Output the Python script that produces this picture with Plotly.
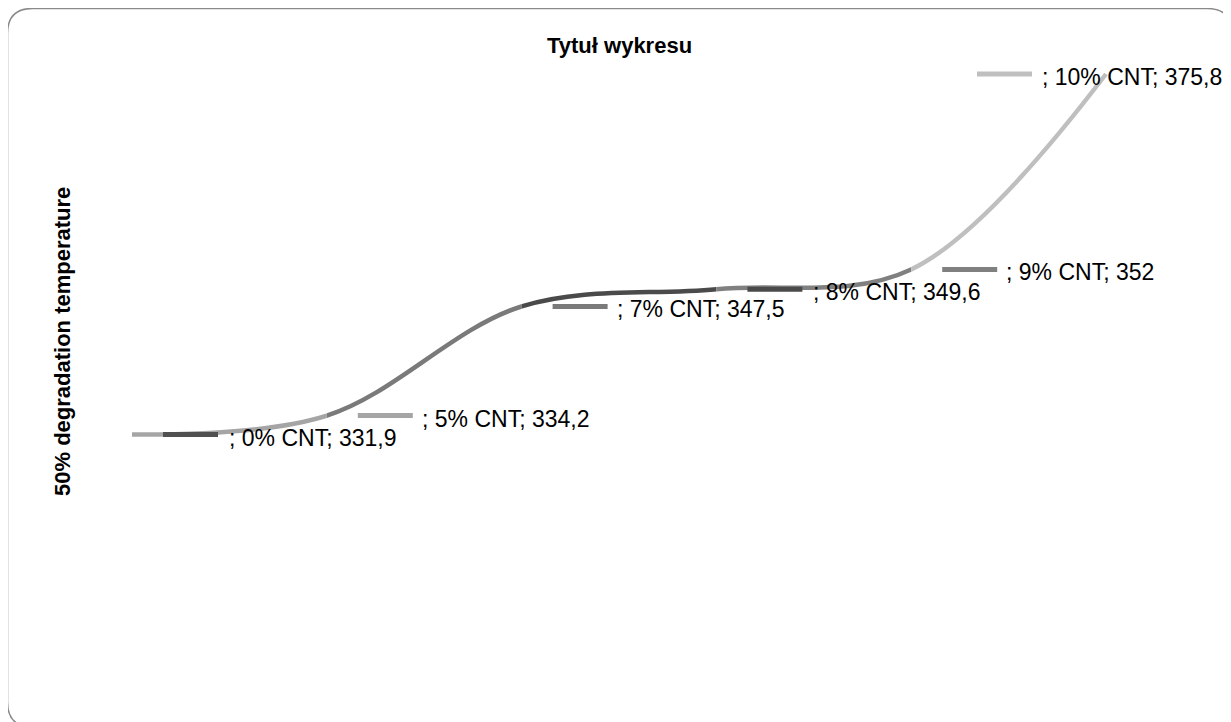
import plotly.graph_objects as go

# ---- data ----
categories = ["0% CNT", "5% CNT", "7% CNT", "8% CNT", "9% CNT", "10% CNT"]
values = [331.9, 334.2, 347.5, 349.6, 352.0, 375.8]
value_labels = ["331,9", "334,2", "347,5", "349,6", "352", "375,8"]

# ---- styles ----
point_colors = ["#505050", "#a5a5a5", "#7a7a7a", "#4a4a4a", "#808080", "#bfbfbf"]
key_offsets = [31, 31, 31, 31, 31, -129]   # px from point to start of legend key
text_offsets = [95, 93, 93, 95, 93, -66]   # px from point to start of text
KEY_LEN = 55
OFF = 8                      # page body margin
W, H = 1231 - OFF, 722 - OFF
X0_PX, DX_PX = 132.0 - OFF, 194.8
# y: 331.9 at 434.5 px from top, 375.8 at 74 px from top (window coords)
SCALE = (434.5 - 74) / (375.8 - 331.9)
Y_RANGE = [331.9 - (H - (434.5 - OFF)) / SCALE, 375.8 + (74 - OFF) / SCALE]
LABEL_FONT = dict(family="Liberation Sans, Arial, sans-serif", size=23, color="#000000")

n = len(categories)
xs = list(range(n))

fig = go.Figure()

# reference axis covering the whole figure
fig.add_trace(go.Scatter(x=xs, y=values, mode="none", hoverinfo="skip",
                         showlegend=False, xaxis="x", yaxis="y"))

layout_axes = {}
layout_axes["xaxis"] = dict(domain=[0, 1], range=[-X0_PX / DX_PX, (W - X0_PX) / DX_PX],
                            visible=False, anchor="y")
layout_axes["yaxis"] = dict(domain=[0, 1], range=Y_RANGE, visible=False, anchor="x")

# one clipped subplot per segment, each colored like its end point
for i in range(n - 1):
    ax_id = i + 2
    p0 = X0_PX + DX_PX * i
    p1 = X0_PX + DX_PX * (i + 1)
    if i == 0:
        p0 -= 2
    if i == n - 2:
        p1 += 2
    r0 = (p0 - X0_PX) / DX_PX
    r1 = (p1 - X0_PX) / DX_PX
    layout_axes[f"xaxis{ax_id}"] = dict(domain=[p0 / W, p1 / W], range=[r0, r1],
                                        visible=False, anchor="y")
    fig.add_trace(go.Scatter(
        x=xs, y=values, mode="lines", xaxis=f"x{ax_id}", yaxis="y",
        line=dict(color=point_colors[i + 1], width=4.5, shape="spline", smoothing=1),
        hoverinfo="skip", showlegend=False))

shapes = []
annotations = []
for i in range(n):
    shapes.append(dict(
        type="line", xref="x", yref="y",
        xsizemode="pixel", xanchor=xs[i], x0=key_offsets[i], x1=key_offsets[i] + KEY_LEN,
        ysizemode="pixel", yanchor=values[i], y0=0, y1=0,
        line=dict(color=point_colors[i], width=5)))
    annotations.append(dict(
        xref="x", yref="y", x=xs[i], y=values[i], xanchor="left", yanchor="middle",
        xshift=text_offsets[i], yshift=-3, showarrow=False,
        text=f"; {categories[i]}; {value_labels[i]}", font=LABEL_FONT))


def px(x):
    return (x - OFF) / W


def py(y):
    return 1 - (y - OFF) / H


# chart border (rounded rectangle), window coords
bx0, by0, bx1, by1, r = 7.5, 8.5, 1232, 727, 25
path = (f"M {px(bx0 + r)},{py(by0)} L {px(bx1 - r)},{py(by0)} "
        f"Q {px(bx1)},{py(by0)} {px(bx1)},{py(by0 + r)} "
        f"L {px(bx1)},{py(by1 - r)} Q {px(bx1)},{py(by1)} {px(bx1 - r)},{py(by1)} "
        f"L {px(bx0 + r)},{py(by1)} Q {px(bx0)},{py(by1)} {px(bx0)},{py(by1 - r)} "
        f"L {px(bx0)},{py(by0 + r)} Q {px(bx0)},{py(by0)} {px(bx0 + r)},{py(by0)} Z")
shapes.append(dict(type="path", xref="paper", yref="paper", path=path,
                   line=dict(color="#8a8a8a", width=1.5), layer="below"))

# title and axis title
annotations.append(dict(xref="paper", yref="paper", x=px(619), y=py(45),
                        xanchor="center", yanchor="middle", showarrow=False,
                        text="<b>Tytuł wykresu</b>",
                        font=dict(family="Liberation Sans, Arial, sans-serif", size=22,
                                  color="#000000")))
annotations.append(dict(xref="paper", yref="paper", x=px(62), y=py(342),
                        xanchor="center", yanchor="middle", showarrow=False,
                        textangle=-90, text="<b>50% degradation temperature</b>",
                        font=dict(family="Liberation Sans, Arial, sans-serif", size=22,
                                  color="#000000")))

fig.update_layout(
    width=W, height=H, autosize=False,
    margin=dict(l=0, r=0, t=0, b=0),
    paper_bgcolor="#ffffff", plot_bgcolor="rgba(0,0,0,0)",
    shapes=shapes, annotations=annotations, showlegend=False,
    **layout_axes)

fig.write_html("out.html", config={"displayModeBar": False})
